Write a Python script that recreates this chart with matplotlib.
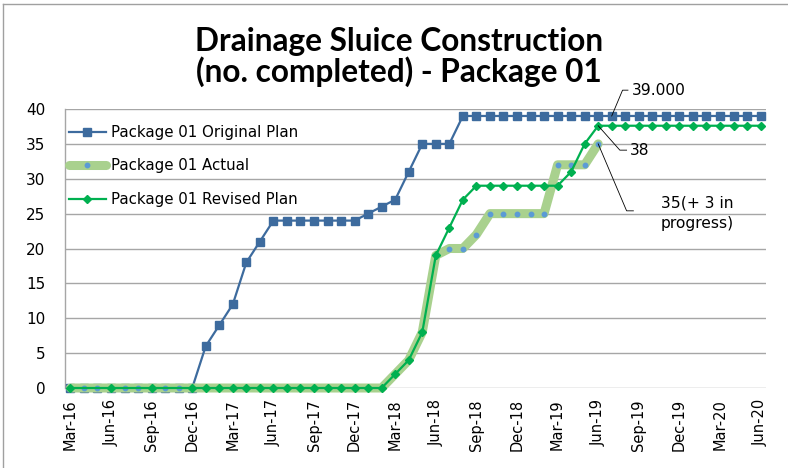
import numpy as np
import matplotlib
matplotlib.use("Agg")
import matplotlib.pyplot as plt
from matplotlib.lines import Line2D

# ---------------- data ----------------
months = ["Mar-16", "Apr-16", "May-16", "Jun-16", "Jul-16", "Aug-16", "Sep-16", "Oct-16", "Nov-16", "Dec-16",
          "Jan-17", "Feb-17", "Mar-17", "Apr-17", "May-17", "Jun-17", "Jul-17", "Aug-17", "Sep-17", "Oct-17",
          "Nov-17", "Dec-17", "Jan-18", "Feb-18", "Mar-18", "Apr-18", "May-18", "Jun-18", "Jul-18", "Aug-18",
          "Sep-18", "Oct-18", "Nov-18", "Dec-18", "Jan-19", "Feb-19", "Mar-19", "Apr-19", "May-19", "Jun-19",
          "Jul-19", "Aug-19", "Sep-19", "Oct-19", "Nov-19", "Dec-19", "Jan-20", "Feb-20", "Mar-20", "Apr-20",
          "May-20", "Jun-20"]

original_plan = [0, 0, 0, 0, 0, 0, 0, 0, 0, 0,
                 6, 9, 12, 18, 21, 24, 24, 24, 24, 24,
                 24, 24, 25, 26, 27, 31, 35, 35, 35, 39,
                 39, 39, 39, 39, 39, 39, 39, 39, 39, 39,
                 39, 39, 39, 39, 39, 39, 39, 39, 39, 39,
                 39, 39]

actual = [0, 0, 0, 0, 0, 0, 0, 0, 0, 0,
          0, 0, 0, 0, 0, 0, 0, 0, 0, 0,
          0, 0, 0, 0, 2, 4, 8, 19, 20, 20,
          22, 25, 25, 25, 25, 25, 32, 32, 32, 35,
          None, None, None, None, None, None, None, None, None, None,
          None, None]

revised_plan = [0, None, None, 0, None, None, 0, None, None, 0,
                0, 0, 0, 0, 0, 0, 0, 0, 0, 0,
                0, 0, 0, 0, 2, 4, 8, 19, 23, 27,
                29, 29, 29, 29, 29, 29, 29, 31, 35, 37.6,
                37.6, 37.6, 37.6, 37.6, 37.6, 37.6, 37.6, 37.6, 37.6, 37.6,
                37.6, 37.6]

series_labels = ["Package 01 Original Plan", "Package 01 Actual", "Package 01 Revised Plan"]
title_lines = ["Drainage Sluice Construction", "(no. completed) - Package 01"]
y_ticks = [0, 5, 10, 15, 20, 25, 30, 35, 40]

# annotations: (text, series value index, value)
ann_39 = ("39.000", 40, 39)
ann_38 = ("38", 39, 37.6)
ann_35 = ("35(+ 3 in\nprogress)", 39, 35)

# ---------------- styling ----------------
BLUE = "#3D6B9E"
LIGHT_GREEN = "#A9D18E"
DOT_BLUE = "#5B9BD5"
GREEN = "#00B050"
GRID = "#A6A6A6"
FONT = "DejaVu Sans"

W, H = 788, 468
fig = plt.figure(figsize=(W / 100, H / 100), dpi=100)
ax = fig.add_axes([65 / W, 1 - 388 / H, (766 - 65) / W, (388 - 109) / H])

x = np.arange(len(months))

def to_arr(vals):
    return np.array([np.nan if v is None else v for v in vals], dtype=float)

orig = to_arr(original_plan)
act = to_arr(actual)
rev = to_arr(revised_plan)

ax.plot(x, orig, color=BLUE, lw=1.6, marker="s", ms=6.3, mfc=BLUE, mec=BLUE,
        label=series_labels[0], zorder=3, clip_on=False)
ma = ~np.isnan(act)
ax.plot(x[ma], act[ma], color=LIGHT_GREEN, lw=6.5, marker="o", ms=3.2, mfc=DOT_BLUE, mec=DOT_BLUE,
        label=series_labels[1], zorder=4, clip_on=False, solid_capstyle="round", solid_joinstyle="round")
mr = ~np.isnan(rev)
ax.plot(x[mr], rev[mr], color=GREEN, lw=1.6, marker="D", ms=4.5, mfc=GREEN, mec=GREEN,
        label=series_labels[2], zorder=5, clip_on=False)

ax.set_xlim(-0.4, 51.4)
ax.set_ylim(0, 40)
ax.set_yticks(y_ticks)
ax.set_yticklabels([str(v) for v in y_ticks], fontsize=11, family=FONT)
ax.set_xticks(x[::3])
ax.set_xticklabels(months[::3], rotation=90, fontsize=10.5, family=FONT)
ax.tick_params(axis="both", length=0)
ax.tick_params(axis="y", pad=14)
ax.tick_params(axis="x", pad=8)

ax.grid(axis="y", color=GRID, lw=1.0)
ax.set_axisbelow(True)
for s in ["top", "right", "bottom"]:
    ax.spines[s].set_visible(False)
ax.spines["left"].set_color(GRID)
ax.spines["left"].set_linewidth(1.0)

leg = ax.legend(loc="upper left", bbox_to_anchor=(0.005, 0.942), frameon=False,
                prop={"family": FONT, "size": 10.8}, handlelength=2.5, handletextpad=0.3,
                labelspacing=1.22, borderaxespad=0, borderpad=0)

# title
title_font = "Lato"
fig.text(399 / W, 1 - 42 / H, title_lines[0], ha="center", va="center",
         fontsize=22.8, fontweight="bold", family=title_font)
fig.text(399 / W, 1 - 72 / H, title_lines[1], ha="center", va="center",
         fontsize=22.8, fontweight="bold", family=title_font)

# annotations with leader lines
def leader(ax, xi, yv, elbow, end, text, text_xy, ha="left"):
    ax.plot([xi, elbow[0], end[0]], [yv, elbow[1], end[1]], color="black", lw=0.6,
            clip_on=False, zorder=6)
    ax.text(text_xy[0], text_xy[1], text, ha=ha, va="center", fontsize=11.2, family=FONT,
            clip_on=False, zorder=6, linespacing=1.45)

leader(ax, ann_39[1], ann_39[2], (40.8, 42.7), (41.2, 42.7), ann_39[0], (41.5, 42.7))
leader(ax, ann_38[1], ann_38[2], (40.6, 34.1), (41.1, 34.1), ann_38[0], (41.35, 34.1))
leader(ax, ann_35[1], ann_35[2], (41.1, 25.4), (41.6, 25.4), ann_35[0], (46.3, 25.1), ha="center")

# outer chart border (top & left visible)
fig.add_artist(Line2D([3 / W, 1], [1 - 4 / H, 1 - 4 / H], color="#A0A0A0", lw=1.0))
fig.add_artist(Line2D([3 / W, 3 / W], [0, 1 - 4 / H], color="#A0A0A0", lw=1.0))

fig.savefig("out.png", dpi=100)
